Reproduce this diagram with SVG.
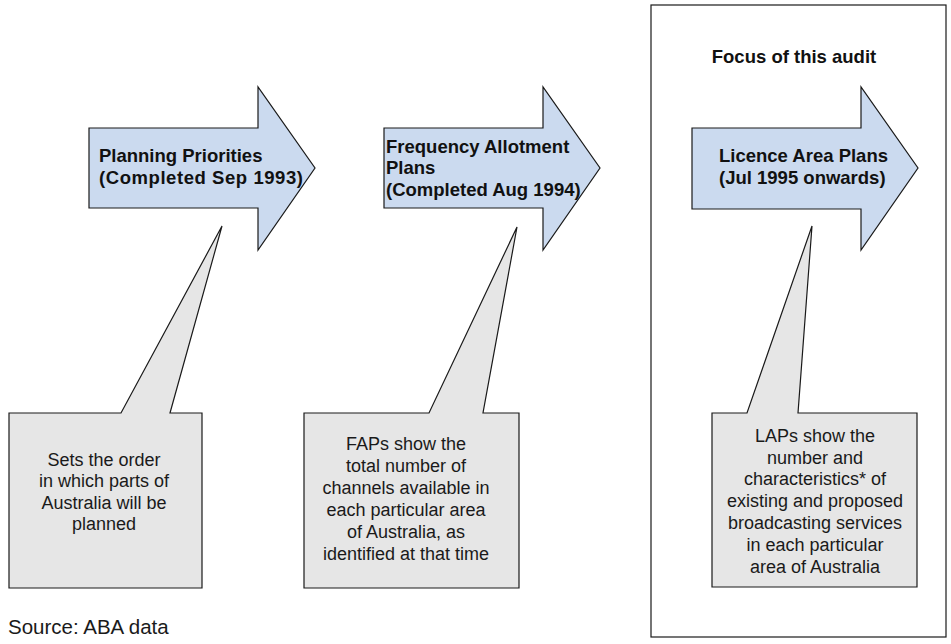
<svg xmlns="http://www.w3.org/2000/svg" width="951" height="644" viewBox="0 0 951 644">
  <style>
    .arrow { fill: #cbdaef; stroke: #1a1a1a; stroke-width: 1.2; stroke-linejoin: miter; }
    .callout { fill: #e6e6e6; stroke: #1a1a1a; stroke-width: 1.2; stroke-linejoin: miter; }
    .frame { fill: none; stroke: #1a1a1a; stroke-width: 1.2; }
    .head { font-family: "Liberation Sans", Arial, sans-serif; font-weight: bold; font-size: 18.5px; fill: #111; }
    .body { font-family: "Liberation Sans", Arial, sans-serif; font-size: 18px; fill: #1a1a1a; text-anchor: middle; }
    .note { font-family: "Liberation Sans", Arial, sans-serif; font-size: 20.5px; fill: #1a1a1a; }
  </style>
  <rect width="951" height="644" fill="#ffffff"/>

  <!-- audit focus frame -->
  <g id="focus-frame">
    <rect class="frame" x="651" y="5" width="295" height="632"/>
    <text class="head" x="794" y="63" text-anchor="middle" font-size="16px">Focus of this audit</text>
  </g>

  <!-- stage arrows -->
  <g id="planning-priorities">
    <path class="arrow" d="M89,128 H258 V87 L315,168 L258,250 V208 H89 Z"/>
    <text class="head" x="99" y="162">Planning Priorities</text>
    <text class="head" x="99" y="184" textLength="204" lengthAdjust="spacing">(Completed Sep 1993)</text>
  </g>

  <g id="frequency-allotment-plans">
    <path class="arrow" d="M384,128 H543 V87 L600,168 L543,250 V208 H384 Z"/>
    <text class="head" x="386" y="153">Frequency Allotment</text>
    <text class="head" x="386" y="174">Plans</text>
    <text class="head" x="386" y="196">(Completed Aug 1994)</text>
  </g>

  <g id="licence-area-plans">
    <path class="arrow" d="M692,128 H861 V87 L918,168 L861,250 V209 H692 Z"/>
    <text class="head" x="719" y="162">Licence Area Plans</text>
    <text class="head" x="719" y="184">(Jul 1995 onwards)</text>
  </g>

  <!-- callouts pointing up to each stage -->
  <g id="connectors">
    <g id="callout-priorities">
      <path class="callout" d="M9,413 H121 L222,226 L170,413 H202 V588 H9 Z"/>
      <text class="body" x="104" y="466">Sets the order</text>
      <text class="body" x="104" y="487">in which parts of</text>
      <text class="body" x="104" y="509">Australia will be</text>
      <text class="body" x="104" y="530">planned</text>
    </g>
    <g id="callout-faps">
      <path class="callout" d="M304,413 H429 L517,227 L483,413 H519 V588 H304 Z"/>
      <text class="body" x="406" y="450">FAPs show the</text>
      <text class="body" x="406" y="472">total number of</text>
      <text class="body" x="406" y="494">channels available in</text>
      <text class="body" x="406" y="516">each particular area</text>
      <text class="body" x="406" y="538">of Australia, as</text>
      <text class="body" x="406" y="560">identified at that time</text>
    </g>
    <g id="callout-laps">
      <path class="callout" d="M712,413 H747 L812,226 L798,413 H917 V587 H712 Z"/>
      <text class="body" x="815" y="442">LAPs show the</text>
      <text class="body" x="815" y="464">number and</text>
      <text class="body" x="815" y="485">characteristics* of</text>
      <text class="body" x="815" y="507">existing and proposed</text>
      <text class="body" x="815" y="529">broadcasting services</text>
      <text class="body" x="815" y="551">in each particular</text>
      <text class="body" x="815" y="573">area of Australia</text>
    </g>
  </g>

  <text class="note" x="8" y="634">Source: ABA data</text>
</svg>
